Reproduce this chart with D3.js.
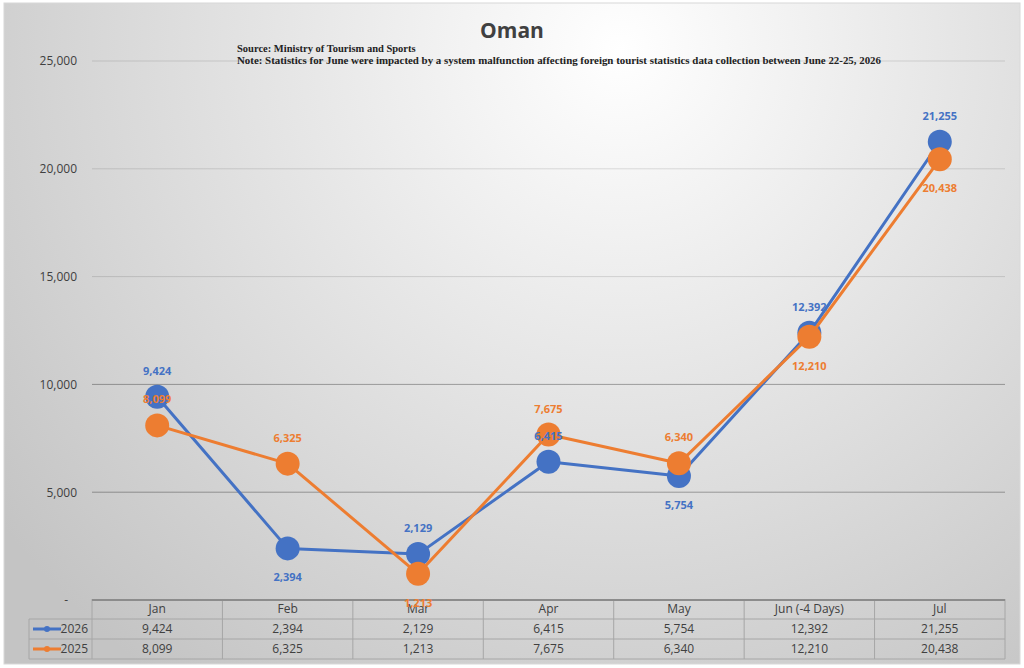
<!DOCTYPE html>
<html>
<head>
<meta charset="utf-8">
<script src="https://cdn.jsdelivr.net/npm/d3@7"></script>
<style>
  body { margin: 0; background: #fff; }
  svg { display: block; }
</style>
</head>
<body>
<svg id="chart" width="1024" height="668"></svg>
<script>
var months = ["Jan", "Feb", "Mar", "Apr", "May", "Jun (-4 Days)", "Jul"];
var visits2026 = [9424, 2394, 2129, 6415, 5754, 12392, 21255];
var visits2025 = [8099, 6325, 1213, 7675, 6340, 12210, 20438];
var yTicks = [0, 5000, 10000, 15000, 20000, 25000];
// label side for each point: -1 above, 1 below
var side2026 = [-1, 1, -1, -1, 1, -1, -1];
var side2025 = [-1, -1, 1, -1, -1, 1, 1];

var blue = "#4472c4";
var orange = "#ed7d31";
var textGray = "#404040";

var svg = d3.select("#chart");

// panel background
var grad = svg.append("defs").append("radialGradient")
    .attr("id", "bg")
    .attr("gradientUnits", "userSpaceOnUse")
    .attr("cx", 620).attr("cy", 50).attr("r", 780);
grad.append("stop").attr("offset", "0%").attr("stop-color", "#ffffff");
grad.append("stop").attr("offset", "100%").attr("stop-color", "#c4c4c4");

svg.append("rect")
    .attr("x", 4).attr("y", 3)
    .attr("width", 1016).attr("height", 661)
    .attr("fill", "url(#bg)")
    .attr("stroke", "#d8d8d8");

var x = d3.scaleBand().domain(months).range([92, 1005]);
var y = d3.scaleLinear().domain([0, 25000]).range([600, 61]);
var fmt = d3.format(",");

// gridlines
svg.append("g").selectAll("line")
    .data(yTicks.filter(function(d) { return d > 0; }))
    .join("line")
    .attr("x1", 92).attr("x2", 1005)
    .attr("y1", function(d) { return y(d); })
    .attr("y2", function(d) { return y(d); })
    .attr("stroke", "#000")
    .attr("stroke-opacity", function(d) { return d <= 10000 ? 0.32 : 0.12; })
    .attr("stroke-width", 1);

// y axis labels
var yAxis = d3.axisLeft(y)
    .tickValues(yTicks)
    .tickSize(0)
    .tickPadding(15)
    .tickFormat(function(d) { return d === 0 ? "-" : fmt(d); });
var yg = svg.append("g").attr("transform", "translate(92,0)").call(yAxis);
yg.select(".domain").remove();
yg.selectAll("text")
    .attr("font-family", "Open Sans, sans-serif")
    .attr("font-size", 12)
    .attr("fill", textGray)
    .attr("dx", function(d) { return d === 0 ? -9 : 0; });

// title and notes
svg.append("text")
    .attr("x", 512).attr("y", 38)
    .attr("text-anchor", "middle")
    .attr("font-family", "Open Sans, sans-serif")
    .attr("font-weight", "bold")
    .attr("font-size", 21)
    .attr("fill", textGray)
    .text("Oman");

svg.append("text")
    .attr("x", 237).attr("y", 52)
    .attr("font-family", "Liberation Serif, serif")
    .attr("font-weight", "bold")
    .attr("font-size", 10.5)
    .attr("fill", "#222")
    .text("Source: Ministry of Tourism and Sports");

svg.append("text")
    .attr("x", 237).attr("y", 64)
    .attr("font-family", "Liberation Serif, serif")
    .attr("font-weight", "bold")
    .attr("font-size", 10.5)
    .attr("fill", "#222")
    .attr("textLength", 644)
    .attr("lengthAdjust", "spacingAndGlyphs")
    .text("Note: Statistics for June were impacted by a system malfunction affecting foreign tourist statistics data collection between June 22-25, 2026");

// data table
var tableTop = 599, rowH = 20;
var table = svg.append("g");
var rows = [
    { name: "2026", values: visits2026, color: blue },
    { name: "2025", values: visits2025, color: orange }
];

// vertical column lines
table.selectAll(".col")
    .data(months.concat(["end"]))
    .join("line")
    .attr("x1", function(d, i) { return i < months.length ? x(d) : x.range()[1]; })
    .attr("x2", function(d, i) { return i < months.length ? x(d) : x.range()[1]; })
    .attr("y1", tableTop)
    .attr("y2", tableTop + rowH * 3)
    .attr("stroke", "#a6a6a6");

table.append("line")
    .attr("x1", 29).attr("x2", 29)
    .attr("y1", tableTop + rowH).attr("y2", tableTop + rowH * 3)
    .attr("stroke", "#a6a6a6");

[1, 2, 3].forEach(function(r) {
    table.append("line")
        .attr("x1", 29).attr("x2", 1005)
        .attr("y1", tableTop + rowH * r).attr("y2", tableTop + rowH * r)
        .attr("stroke", "#a6a6a6");
});

// axis baseline
svg.append("line")
    .attr("x1", 92).attr("x2", 1005)
    .attr("y1", y(0)).attr("y2", y(0))
    .attr("stroke", "#8c8c8c")
    .attr("stroke-width", 2);

table.selectAll(".hdr")
    .data(months)
    .join("text")
    .attr("x", function(d) { return x(d) + x.bandwidth() / 2; })
    .attr("y", tableTop + 14)
    .attr("text-anchor", "middle")
    .attr("font-family", "Open Sans, sans-serif")
    .attr("font-size", 12)
    .attr("fill", textGray)
    .text(function(d) { return d; });

rows.forEach(function(row, r) {
    var ry = tableTop + rowH * (r + 1);
    table.selectAll(".cell" + r)
        .data(row.values)
        .join("text")
        .attr("x", function(d, i) { return x(months[i]) + x.bandwidth() / 2; })
        .attr("y", ry + 14)
        .attr("text-anchor", "middle")
        .attr("font-family", "Open Sans, sans-serif")
        .attr("font-size", 12)
        .attr("fill", textGray)
        .text(function(d) { return fmt(d); });

    table.append("line")
        .attr("x1", 33).attr("x2", 61)
        .attr("y1", ry + 10).attr("y2", ry + 10)
        .attr("stroke", row.color).attr("stroke-width", 3);
    table.append("circle")
        .attr("cx", 47).attr("cy", ry + 10).attr("r", 3)
        .attr("fill", row.color);
    table.append("text")
        .attr("x", 88).attr("y", ry + 14)
        .attr("text-anchor", "end")
        .attr("font-family", "Open Sans, sans-serif")
        .attr("font-size", 12)
        .attr("fill", textGray)
        .text(row.name);
});

// series lines and markers
var line = d3.line()
    .x(function(d, i) { return x(months[i]) + x.bandwidth() / 2; })
    .y(function(d) { return y(d); });

function drawSeries(values, color) {
    svg.append("path")
        .datum(values)
        .attr("d", line)
        .attr("fill", "none")
        .attr("stroke", color)
        .attr("stroke-width", 3)
        .attr("stroke-linejoin", "round");
    svg.append("g").selectAll("circle")
        .data(values)
        .join("circle")
        .attr("cx", function(d, i) { return x(months[i]) + x.bandwidth() / 2; })
        .attr("cy", function(d) { return y(d); })
        .attr("r", 12)
        .attr("fill", color);
}

function drawLabels(values, sides, color) {
    svg.append("g").selectAll("text")
        .data(values)
        .join("text")
        .attr("x", function(d, i) { return x(months[i]) + x.bandwidth() / 2; })
        .attr("y", function(d, i) { return y(d) + (sides[i] < 0 ? -22 : 33); })
        .attr("text-anchor", "middle")
        .attr("font-family", "Open Sans, sans-serif")
        .attr("font-weight", "bold")
        .attr("font-size", 11)
        .attr("fill", color)
        .text(function(d) { return fmt(d); });
}

drawSeries(visits2026, blue);
drawSeries(visits2025, orange);
drawLabels(visits2026, side2026, blue);
drawLabels(visits2025, side2025, orange);
</script>
</body>
</html>
